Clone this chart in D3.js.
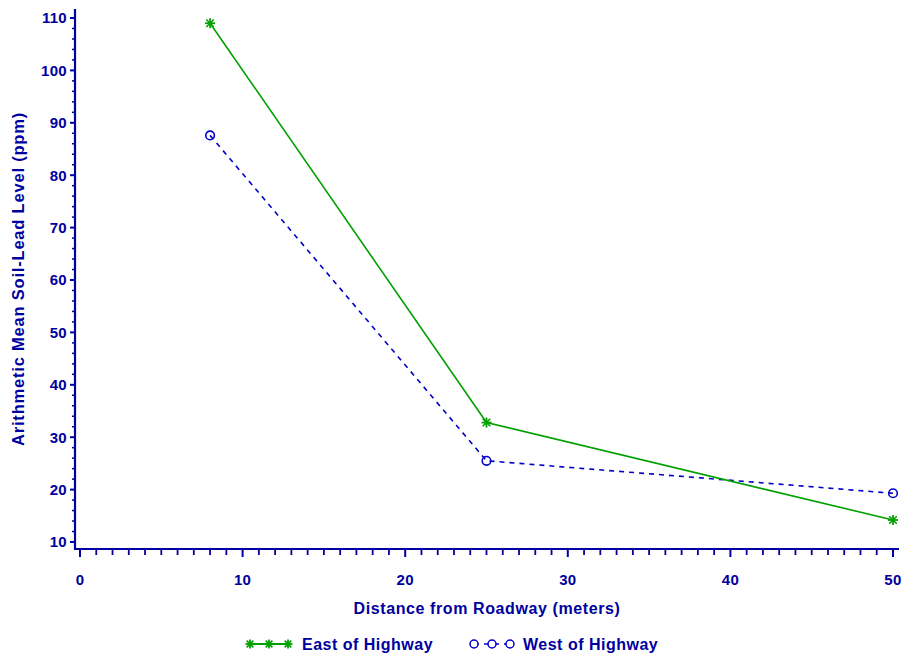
<!DOCTYPE html>
<html>
<head>
<meta charset="utf-8">
<script src="https://cdn.jsdelivr.net/npm/d3@7"></script>
<style>
  html, body { margin: 0; padding: 0; background: #fff; }
  svg text { font-family: "Liberation Sans", Arial, sans-serif; font-weight: bold; fill: #0000a0; }
</style>
</head>
<body>
<div id="chart"></div>
<script>
const distances = [8, 25, 50];
const eastValues = [109.0, 32.8, 14.2];
const westValues = [87.6, 25.5, 19.3];
const seriesNames = ["East of Highway", "West of Highway"];
const xTicks = [0, 10, 20, 30, 40, 50];
const yTicks = [10, 20, 30, 40, 50, 60, 70, 80, 90, 100, 110];

const W = 904, H = 654;
const axisColor = "#0000a0";
const eastColor = "#00a000";
const westColor = "#0000c8";

const svg = d3.select("#chart").append("svg").attr("width", W).attr("height", H);

const x = d3.scaleLinear().domain([0, 50]).range([80, 893]);
const y = d3.scaleLinear().domain([10, 110]).range([542, 18]);

// Y axis
const yAxisG = svg.append("g");
yAxisG.append("line").attr("x1", 75).attr("x2", 75).attr("y1", 9).attr("y2", 550)
  .attr("stroke", axisColor).attr("stroke-width", 2.2);
const yMinor = d3.range(10, 112, 2).filter(v => v % 10 !== 0);
yAxisG.selectAll(".ymin").data(yMinor).join("line")
  .attr("x1", 72).attr("x2", 75).attr("y1", d => y(d)).attr("y2", d => y(d))
  .attr("stroke", axisColor).attr("stroke-width", 1.5);
yAxisG.selectAll(".ymaj").data(yTicks).join("line")
  .attr("x1", 70).attr("x2", 75).attr("y1", d => y(d)).attr("y2", d => y(d))
  .attr("stroke", axisColor).attr("stroke-width", 2);
yAxisG.selectAll(".ylab").data(yTicks).join("text")
  .attr("x", 67).attr("y", d => y(d)).attr("dy", "0.36em")
  .attr("text-anchor", "end").attr("font-size", 15).attr("letter-spacing", 0.3).text(d => d);

// X axis
const xAxisG = svg.append("g");
xAxisG.append("line").attr("x1", 75).attr("x2", 899).attr("y1", 549).attr("y2", 549)
  .attr("stroke", axisColor).attr("stroke-width", 2.2);
const xMinor = d3.range(0, 51, 1).filter(v => v % 10 !== 0);
xAxisG.selectAll(".xmin").data(xMinor).join("line")
  .attr("x1", d => x(d)).attr("x2", d => x(d)).attr("y1", 549).attr("y2", 555)
  .attr("stroke", axisColor).attr("stroke-width", 1.8);
xAxisG.selectAll(".xmaj").data(xTicks).join("line")
  .attr("x1", d => x(d)).attr("x2", d => x(d)).attr("y1", 549).attr("y2", 557)
  .attr("stroke", axisColor).attr("stroke-width", 2);
xAxisG.selectAll(".xlab").data(xTicks).join("text")
  .attr("x", d => x(d)).attr("y", 580).attr("dy", "0.36em")
  .attr("text-anchor", "middle").attr("font-size", 15).attr("letter-spacing", 0.3).text(d => d);

// Axis titles
svg.append("text").attr("x", 487).attr("y", 608).attr("dy", "0.36em")
  .attr("text-anchor", "middle").attr("font-size", 16).attr("letter-spacing", 0.6)
  .text("Distance from Roadway (meters)");
svg.append("text").attr("transform", "translate(18,279) rotate(-90)").attr("dy", "0.36em")
  .attr("text-anchor", "middle").attr("font-size", 16.5).attr("letter-spacing", 0.8)
  .text("Arithmetic Mean Soil-Lead Level (ppm)");

// Lines
const line = d3.line().x(d => x(d[0])).y(d => y(d[1]));
const eastData = distances.map((d, i) => [d, eastValues[i]]);
const westData = distances.map((d, i) => [d, westValues[i]]);

svg.append("path").datum(westData).attr("d", line).attr("fill", "none")
  .attr("stroke", westColor).attr("stroke-width", 1.6).attr("stroke-dasharray", "5,5");
svg.append("path").datum(eastData).attr("d", line).attr("fill", "none")
  .attr("stroke", eastColor).attr("stroke-width", 1.6);

function star(g, cx, cy, s, color) {
  g.append("line").attr("x1", cx - s).attr("x2", cx + s).attr("y1", cy).attr("y2", cy).attr("stroke", color).attr("stroke-width", 1.8);
  g.append("line").attr("x1", cx).attr("x2", cx).attr("y1", cy - s).attr("y2", cy + s).attr("stroke", color).attr("stroke-width", 1.8);
  const d = s * 0.75;
  g.append("line").attr("x1", cx - d).attr("x2", cx + d).attr("y1", cy - d).attr("y2", cy + d).attr("stroke", color).attr("stroke-width", 1.6);
  g.append("line").attr("x1", cx - d).attr("x2", cx + d).attr("y1", cy + d).attr("y2", cy - d).attr("stroke", color).attr("stroke-width", 1.6);
}
const mk = svg.append("g");
eastData.forEach(d => star(mk, x(d[0]), y(d[1]), 5, eastColor));
mk.selectAll(".wc").data(westData).join("circle")
  .attr("cx", d => x(d[0])).attr("cy", d => y(d[1])).attr("r", 4.3)
  .attr("fill", "none").attr("stroke", westColor).attr("stroke-width", 1.6);

// Legend
const lg = svg.append("g");
const ly = 644;
lg.append("line").attr("x1", 250).attr("x2", 288).attr("y1", ly).attr("y2", ly)
  .attr("stroke", eastColor).attr("stroke-width", 1.8);
[250, 269, 288].forEach(cx => star(lg, cx, ly, 4.5, eastColor));
lg.append("text").attr("x", 302).attr("y", ly).attr("dy", "0.36em").attr("font-size", 16)
  .attr("letter-spacing", 0.5).text(seriesNames[0]);
lg.append("line").attr("x1", 474).attr("x2", 510).attr("y1", ly).attr("y2", ly)
  .attr("stroke", westColor).attr("stroke-width", 1.6).attr("stroke-dasharray", "5,5");
[474, 492, 510].forEach(cx => lg.append("circle").attr("cx", cx).attr("cy", ly).attr("r", 4)
  .attr("fill", "#fff").attr("stroke", westColor).attr("stroke-width", 1.5));
lg.append("text").attr("x", 523).attr("y", ly).attr("dy", "0.36em").attr("font-size", 16)
  .attr("letter-spacing", 0.5).text(seriesNames[1]);
</script>
</body>
</html>
